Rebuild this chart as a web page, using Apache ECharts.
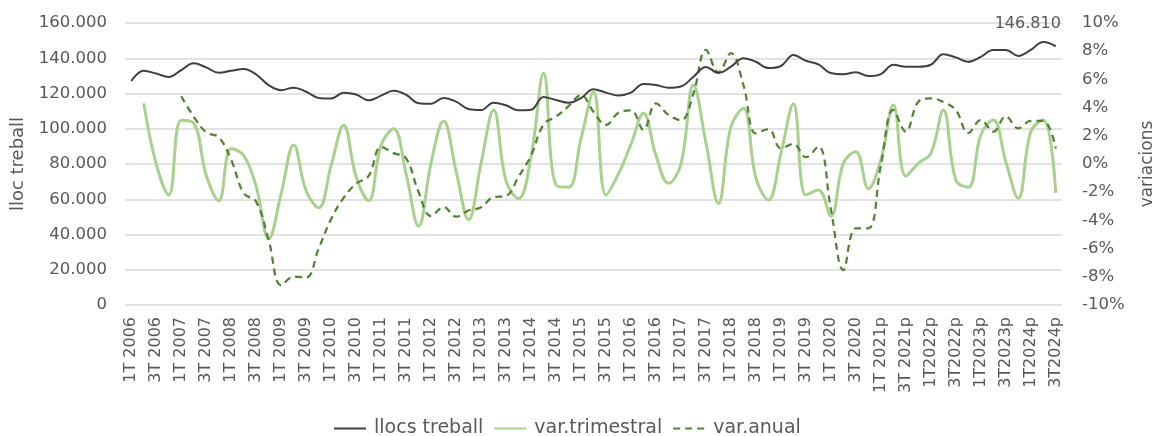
<!DOCTYPE html>
<html>
<head>
<meta charset="utf-8">
<script src="https://cdn.jsdelivr.net/npm/echarts@6/dist/echarts.min.js"></script>
<style>
html,body{margin:0;padding:0;background:#fff;}
#chart{width:1164px;height:436px;}
</style>
</head>
<body>
<div id="chart"></div>
<script>
const categories = [
"1T 2006","2T 2006","3T 2006","4T 2006",
"1T 2007","2T 2007","3T 2007","4T 2007",
"1T 2008","2T 2008","3T 2008","4T 2008",
"1T 2009","2T 2009","3T 2009","4T 2009",
"1T 2010","2T 2010","3T 2010","4T 2010",
"1T 2011","2T 2011","3T 2011","4T 2011",
"1T 2012","2T 2012","3T 2012","4T 2012",
"1T 2013","2T 2013","3T 2013","4T 2013",
"1T 2014","2T 2014","3T 2014","4T 2014",
"1T 2015","2T 2015","3T 2015","4T 2015",
"1T 2016","2T 2016","3T 2016","4T 2016",
"1T 2017","2T 2017","3T 2017","4T 2017",
"1T 2018","2T 2018","3T 2018","4T 2018",
"1T 2019","2T 2019","3T 2019","4T 2019",
"1T 2020","2T 2020","3T 2020","4T 2020",
"1T 2021p","2T 2021p","3T 2021p","4T 2021p",
"1T2022p","2T2022p","3T2022p","4T2022p",
"1T2023p","2T2023p","3T2023p","4T2023p",
"1T2024p","2T2024p","3T2024p"
];

const llocsTreball = [
127100,132900,131300,129400,
133300,137100,134800,131800,
132900,133900,130800,124700,
121900,123300,121000,117500,
117200,120400,119400,116100,
118800,121500,119300,114500,
114200,117500,115400,111200,
110600,114800,113300,110500,
110800,118000,116300,114700,
117400,122400,120500,118900,
120500,125400,124800,123300,
124000,129500,135000,131700,
135200,140000,138000,134400,
135600,141800,138600,136500,
131600,130900,132000,129900,
131000,136300,135200,135200,
136300,142200,140500,138000,
140800,144700,144700,141300,
144700,149200,146810
];

const varTrimestral = [
null,4.3,0.0,-2.2,
3.1,2.9,-0.8,-2.6,
1.1,0.6,-1.6,-5.3,
-2.1,1.35,-1.9,-3.1,
-0.1,2.75,-0.9,-2.6,
1.35,2.5,-0.7,-4.4,
0.1,3.05,-0.5,-3.95,
0.05,3.83,-1.2,-2.45,
0.5,6.43,-1.5,-1.65,
1.8,5.1,-2.2,-0.7,
1.4,3.6,0.6,-1.37,
0.0,5.6,1.5,-2.8,
2.65,3.95,-1.0,-2.55,
0.76,4.28,-2.2,-1.85,
-3.7,0.05,0.87,-1.75,
0.28,4.18,-0.85,0.05,
0.75,3.83,-1.13,-1.65,
2.06,3.12,0.17,-2.43,
2.29,3.12,-2.05
];

const varAnual = [
null,null,null,null,
4.8,3.36,2.25,1.9,
0.3,-2.07,-2.67,-5.4,
-8.6,-7.99,-8.05,-6.0,
-3.9,-2.4,-1.4,-0.85,
1.2,0.77,0.4,-2.0,
-3.7,-3.05,-3.74,-3.3,
-3.07,-2.35,-2.27,-0.9,
0.6,2.8,3.36,4.1,
4.89,3.7,2.77,3.64,
3.8,2.43,4.3,3.48,
3.1,5.01,8.09,6.5,
7.87,5.6,2.17,2.48,
1.12,1.42,0.48,1.25,
-3.2,-7.52,-4.56,-4.56,
-0.1,3.83,2.29,4.42,
4.66,4.4,3.83,2.2,
3.12,2.29,3.38,2.53,
3.05,3.05,1.1
];

const seriesNames = ["llocs treball","var.trimestral","var.anual"];

const FONT = "DejaVu Sans";
const TXT = "#595959";

function fmtThousands(v){
  return String(Math.round(v)).replace(/\B(?=(\d{3})+(?!\d))/g, ".");
}

const lastIdx = llocsTreball.length - 1;
const llocsData = llocsTreball.map((v,i)=> i===lastIdx ? {
  value:v,
  label:{show:true, position:'top', offset:[-28,-9], formatter:(p)=>fmtThousands(p.value),
         color:TXT, fontFamily:FONT, fontSize:16}
} : v);

const chart = echarts.init(document.getElementById('chart'), null, {renderer:'canvas'});
chart.setOption({
  animation:false,
  backgroundColor:'#fff',
  textStyle:{fontFamily:FONT, color:TXT},
  grid:{left:125, right:91, top:23, bottom:131, containLabel:false},
  legend:{
    data:seriesNames,
    left:328, top:414,
    itemWidth:32, itemHeight:2, itemGap:10,
    itemStyle:{opacity:0},
    textStyle:{color:TXT, fontFamily:FONT, fontSize:19, padding:[0,0,0,3]}
  },
  xAxis:{
    type:'category',
    data:categories,
    boundaryGap:true,
    axisLine:{show:false},
    axisTick:{show:false},
    axisLabel:{rotate:90, interval:1, margin:12, color:TXT, fontFamily:FONT, fontSize:16}
  },
  yAxis:[
    {
      type:'value', min:0, max:160000, interval:20000,
      name:'lloc treball', nameLocation:'middle', nameGap:98, nameRotate:90,
      nameTextStyle:{color:TXT, fontFamily:FONT, fontSize:18},
      axisLine:{show:false}, axisTick:{show:false},
      axisLabel:{margin:18, color:TXT, fontFamily:FONT, fontSize:16.5, formatter:fmtThousands},
      splitLine:{lineStyle:{color:'#d9d9d9', width:1.5}}
    },
    {
      type:'value', min:-10, max:10, interval:2,
      name:'variacions', nameLocation:'middle', nameGap:77, nameRotate:90,
      nameTextStyle:{color:TXT, fontFamily:FONT, fontSize:17},
      axisLine:{show:false}, axisTick:{show:false},
      axisLabel:{margin:20, color:TXT, fontFamily:FONT, fontSize:16.5, formatter:'{value}%'},
      splitLine:{show:false}
    }
  ],
  series:[
    {
      name:seriesNames[0], type:'line', yAxisIndex:0, data:llocsData,
      smooth:0.4, symbol:'circle', symbolSize:0, showSymbol:true, showAllSymbol:true, z:3,
      lineStyle:{color:'#404040', width:2}, itemStyle:{color:'#404040'}
    },
    {
      name:seriesNames[1], type:'line', yAxisIndex:1, data:varTrimestral,
      smooth:0.4, symbol:'none', z:2,
      lineStyle:{color:'#a9d18e', width:3}, itemStyle:{color:'#a9d18e'}
    },
    {
      name:seriesNames[2], type:'line', yAxisIndex:1, data:varAnual,
      smooth:0.4, symbol:'none', z:2,
      lineStyle:{color:'#548235', width:2.25, type:[7,5]}, itemStyle:{color:'#548235'}
    }
  ]
});
</script>
</body>
</html>
